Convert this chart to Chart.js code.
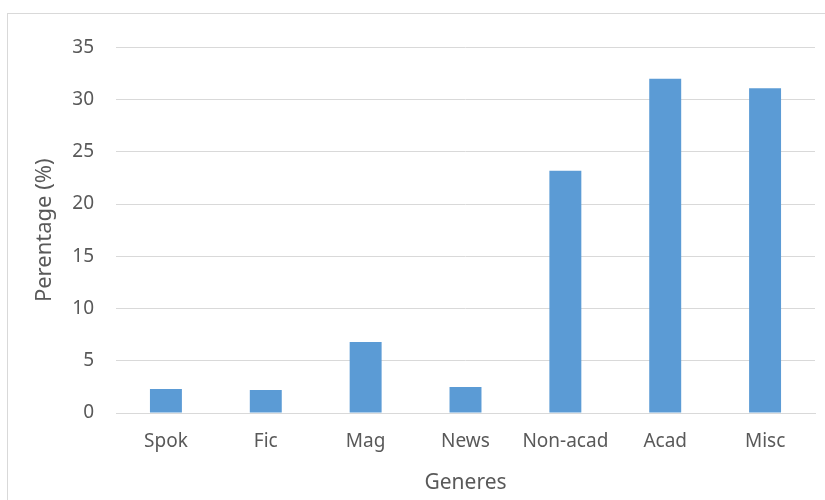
<!DOCTYPE html>
<html>
<head>
<meta charset="utf-8">
<script src="https://cdn.jsdelivr.net/npm/chart.js@4"></script>
<style>
  html, body { margin: 0; padding: 0; background: #fff; }
  #frame {
    position: absolute; left: 7px; top: 13px; width: 818px; height: 487px;
    border-left: 1px solid #d9d9d9; border-top: 1px solid #d9d9d9;
    box-sizing: border-box;
  }
  #wrap { position: absolute; left: 0; top: 0; width: 817px; height: 486px; }
</style>
</head>
<body>
<div id="frame"><div id="wrap"><canvas id="chart"></canvas></div></div>
<script>
const genres = ["Spok", "Fic", "Mag", "News", "Non-acad", "Acad", "Misc"];
const percentages = [2.3, 2.2, 6.8, 2.5, 23.2, 32.0, 31.1];
const yTicks = [0, 5, 10, 15, 20, 25, 30, 35];

const textColor = "#595959";
const gridColor = "#d9d9d9";
const family = "'Noto Sans', 'Open Sans', sans-serif";

new Chart(document.getElementById("chart"), {
  type: "bar",
  data: {
    labels: genres,
    datasets: [{
      label: "Percentage",
      data: percentages,
      backgroundColor: "#5b9bd5",
      categoryPercentage: 1,
      barPercentage: 0.32,
    }],
  },
  options: {
    responsive: true,
    maintainAspectRatio: false,
    animation: false,
    layout: { padding: { top: 31, right: 10, left: 0, bottom: 0 } },
    plugins: { legend: { display: false }, tooltip: { enabled: false } },
    scales: {
      x: {
        grid: { display: false, drawTicks: false },
        border: { display: true, color: gridColor, width: 1 },
        ticks: { color: textColor, font: { family, size: 19 }, padding: 17, maxRotation: 0 },
        title: {
          display: true, text: "Generes", color: textColor,
          font: { family, size: 21 }, padding: { top: 1 },
        },
        afterFit: (scale) => { scale.height = 87; },
      },
      y: {
        min: 0, max: 35,
        afterBuildTicks: (scale) => { scale.ticks = yTicks.map((v) => ({ value: v })); },
        grid: { color: gridColor, lineWidth: 1, drawTicks: false },
        border: { display: false },
        ticks: { color: textColor, font: { family, size: 19 }, padding: 22 },
        title: {
          display: true, text: "Perentage (%)", color: textColor,
          font: { family, size: 22 }, padding: { top: 24 },
        },
        afterFit: (scale) => { scale.width = 108; },
      },
    },
  },
});
</script>
</body>
</html>
